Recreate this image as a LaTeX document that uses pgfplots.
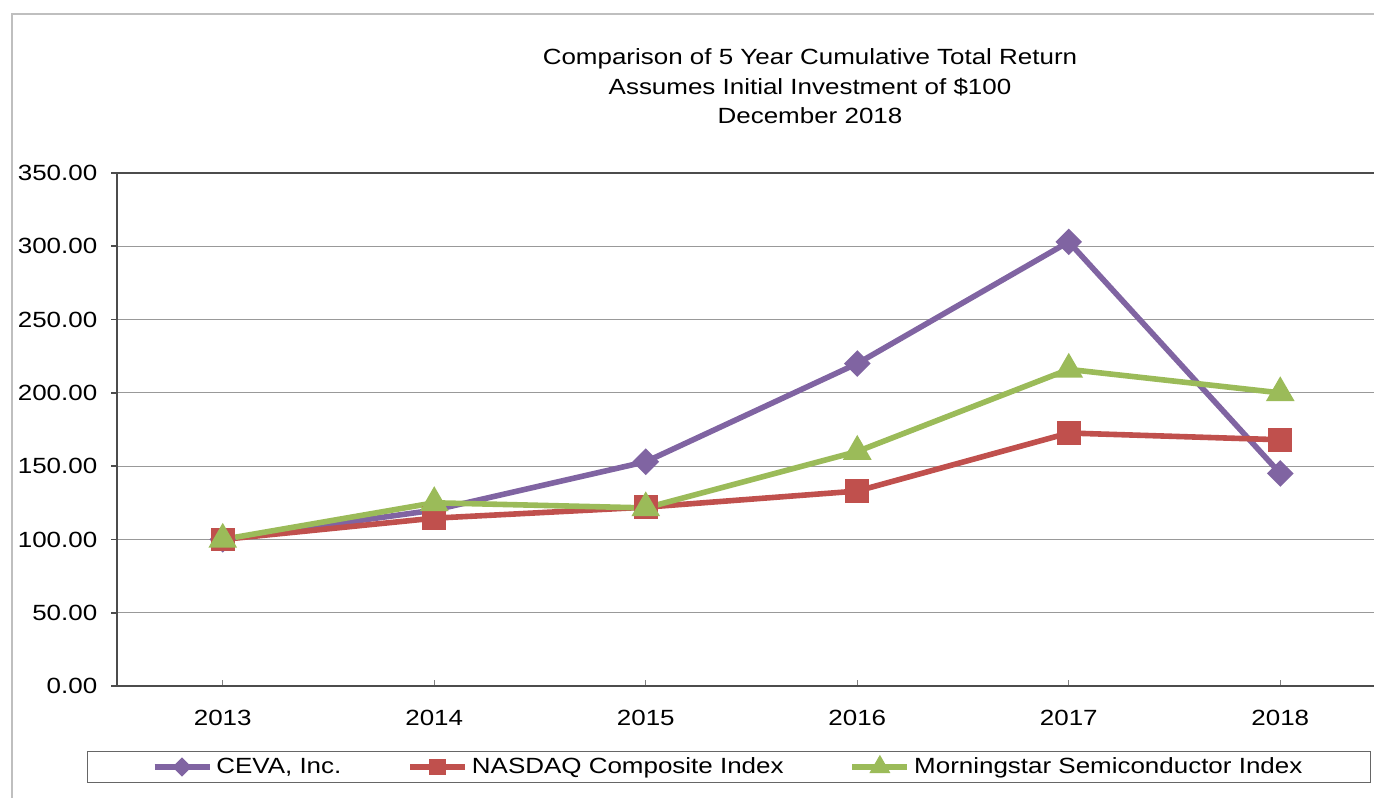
\documentclass[border=0pt]{standalone}
\usepackage{fontspec}
\setmainfont{Liberation Sans}[FakeStretch=1.18]
\usepackage{pgfplots}
\pgfplotsset{compat=1.18}
\definecolor{cpurple}{HTML}{8064A2}
\definecolor{cred}{HTML}{C0504D}
\definecolor{cgreen}{HTML}{9BBB59}
\begin{document}
\fontsize{11pt}{13pt}\selectfont
\begin{tikzpicture}
\useasboundingbox (0,0) rectangle (687pt,398.5pt);
\draw[black!25, line width=1pt] (6pt,-5pt) -- (6pt,391.5pt) -- (700pt,391.5pt);
\node[anchor=base, inner sep=0pt] at (405pt,366pt) {Comparison of 5 Year Cumulative Total Return};
\node[anchor=base, inner sep=0pt] at (405pt,351pt) {Assumes Initial Investment of \$100};
\node[anchor=base, inner sep=0pt] at (405pt,336.5pt) {December 2018};
\begin{axis}[
  at={(58.5pt,55.5pt)}, anchor=south west,
  scale only axis, width=634.5pt, height=256.5pt,
  xmin=-0.5, xmax=5.5, ymin=0, ymax=350,
  xtick={0,1,2,3,4,5},
  xticklabels={2013,2014,2015,2016,2017,2018},
  ytick={0,50,...,350},
  axis x line*=bottom, axis y line*=left,
  axis line style={black!70, line width=0.8pt},
  ymajorgrids, grid style={black!40, line width=0.6pt},
  tick align=outside, major tick length=3pt,
  tick style={black!70, line width=0.8pt},
  x tick style={yshift=3pt, black!50, line width=0.5pt},
  /pgf/number format/fixed, /pgf/number format/fixed zerofill, /pgf/number format/precision=2, /pgf/number format/assume math mode=true,
  yticklabel style={font=\fontsize{11pt}{13pt}\selectfont, xshift=-3pt},
  xticklabel style={font=\fontsize{11pt}{13pt}\selectfont, yshift=-5pt},
  every axis plot/.append style={line width=2.8pt},
  legend columns=3,
  legend style={at={(0.4823,-0.1579)}, anchor=center, draw=black!60, line width=0.6pt,
    inner xsep=32pt, inner ysep=1.5pt, fill=none,
    nodes={inner ysep=1.5pt},
    font=\fontsize{11pt}{13pt}\selectfont,
    /tikz/every even column/.append style={column sep=31pt}},
  legend cell align=left,
  legend image code/.code={\draw[mark repeat=2,mark phase=2, every mark/.append style={scale=0.6}] plot coordinates {(0pt,0pt) (13.75pt,0pt) (27.5pt,0pt)};},
]
\addplot[cpurple, mark=square*, mark size=3.3pt, mark options={rotate=45, solid}] coordinates {
(0,100) (1,120) (2,153) (3,220) (4,303) (5,145)};
\addlegendentry{CEVA, Inc.}
\addplot[cred, mark=square*, mark size=4.5pt, mark options={solid}] coordinates {
(0,100) (1,114.5) (2,122) (3,133) (4,172.6) (5,168)};
\addlegendentry{NASDAQ Composite Index}
\addplot[cgreen, mark=triangle*, mark size=5.5pt, mark options={solid}] coordinates {
(0,100) (1,125) (2,121.5) (3,160) (4,216) (5,200)};
\addlegendentry{Morningstar Semiconductor Index}
\draw[black!70, line width=0.8pt] (rel axis cs:0,1) -- (rel axis cs:1,1);
\end{axis}
\end{tikzpicture}
\end{document}
